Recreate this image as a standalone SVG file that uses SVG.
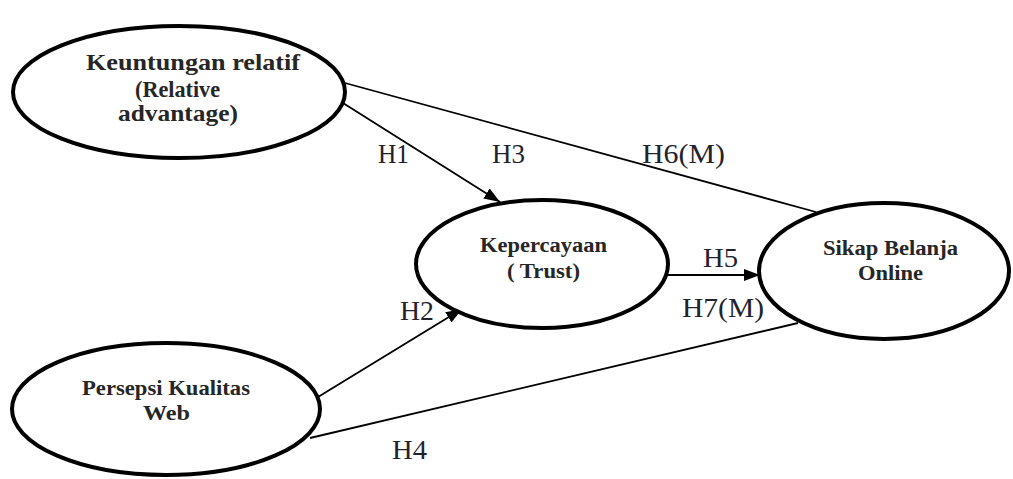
<svg xmlns="http://www.w3.org/2000/svg" width="1013" height="479" viewBox="0 0 1013 479">
<style>
.node ellipse{fill:#fff;stroke:#000;stroke-width:4}
.nt{font-family:"Liberation Serif","Times New Roman",serif;font-weight:bold;fill:#262626}
.lbl{font-family:"Liberation Serif","Times New Roman",serif;font-size:28px;fill:#22232c}
.conn line{stroke:#000;stroke-width:1.8}
</style>
<defs>
<marker id="ah" markerUnits="userSpaceOnUse" markerWidth="18" markerHeight="14" refX="16" refY="6" orient="auto">
<path d="M0,0 L16,6 L0,12 Z" fill="#000"/>
</marker>
</defs>
<rect width="1013" height="479" fill="#fff"/>
<g id="connectors" class="conn">
<line x1="345" y1="83" x2="816" y2="212"/>
<line x1="343" y1="103" x2="500" y2="202" marker-end="url(#ah)"/>
<line x1="318" y1="397" x2="462" y2="309" marker-end="url(#ah)"/>
<line x1="310" y1="438" x2="798" y2="323"/>
<line x1="668" y1="275" x2="760" y2="275" marker-end="url(#ah)"/>
</g>
<g id="node-keuntungan" class="node">
<ellipse cx="179" cy="92" rx="166" ry="66"/>
<text class="nt" font-size="23" x="86" y="70" textLength="214" lengthAdjust="spacingAndGlyphs">Keuntungan relatif</text>
<text class="nt" font-size="23" x="135" y="97" textLength="85" lengthAdjust="spacingAndGlyphs">(Relative</text>
<text class="nt" font-size="23" x="118" y="121" textLength="120" lengthAdjust="spacingAndGlyphs">advantage)</text>
</g>
<g id="node-kepercayaan" class="node">
<ellipse cx="542" cy="264" rx="126" ry="64"/>
<text class="nt" font-size="20" x="480" y="252" textLength="127" lengthAdjust="spacingAndGlyphs">Kepercayaan</text>
<text class="nt" font-size="20" x="507" y="278" textLength="73" lengthAdjust="spacingAndGlyphs">( Trust)</text>
</g>
<g id="node-persepsi" class="node">
<ellipse cx="166" cy="409" rx="154" ry="66"/>
<text class="nt" font-size="22" x="82" y="395" textLength="168" lengthAdjust="spacingAndGlyphs">Persepsi Kualitas</text>
<text class="nt" font-size="22" x="143" y="420" textLength="47" lengthAdjust="spacingAndGlyphs">Web</text>
</g>
<g id="node-sikap" class="node">
<ellipse cx="884" cy="271" rx="125" ry="68"/>
<text class="nt" font-size="20" x="823" y="255" textLength="135" lengthAdjust="spacingAndGlyphs">Sikap Belanja</text>
<text class="nt" font-size="20" x="858" y="280" textLength="65" lengthAdjust="spacingAndGlyphs">Online</text>
</g>
<g id="labels">
<text class="lbl" x="378" y="163" textLength="31" lengthAdjust="spacingAndGlyphs">H1</text>
<text class="lbl" x="492" y="163" textLength="33" lengthAdjust="spacingAndGlyphs">H3</text>
<text class="lbl" x="642" y="163" textLength="83" lengthAdjust="spacingAndGlyphs">H6(M)</text>
<text class="lbl" x="703" y="267" textLength="35" lengthAdjust="spacingAndGlyphs">H5</text>
<text class="lbl" x="682" y="317" textLength="82" lengthAdjust="spacingAndGlyphs">H7(M)</text>
<text class="lbl" x="400" y="320" textLength="34" lengthAdjust="spacingAndGlyphs">H2</text>
<text class="lbl" x="392" y="459" textLength="35" lengthAdjust="spacingAndGlyphs">H4</text>
</g>
</svg>
